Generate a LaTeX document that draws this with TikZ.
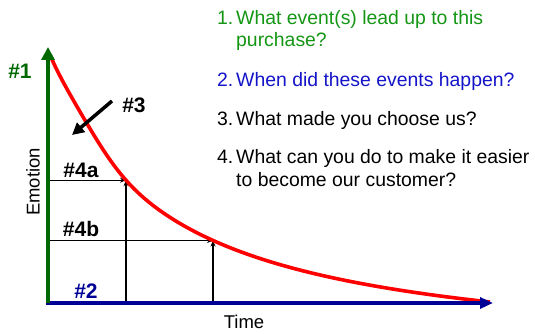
\documentclass[tikz,border=0pt]{standalone}
\usepackage{fontspec}
\setmainfont{Liberation Sans}
\usetikzlibrary{arrows.meta}
\definecolor{axgreen}{RGB}{0,104,0}
\definecolor{txtgreen}{RGB}{20,150,20}
\definecolor{axblue}{RGB}{0,0,150}
\definecolor{txtblue}{RGB}{20,20,200}
\begin{document}
\begin{tikzpicture}[x=1pt,y=-1pt,
  lbl/.style={font=\fontsize{21}{24}\selectfont\bfseries, inner sep=0pt},
  axlbl/.style={font=\fontsize{18.5}{22}\selectfont, inner sep=0pt},
  item/.style={font=\fontsize{19.4}{22}\selectfont, inner sep=0pt, anchor=base west},
  thin arrow/.style={draw=black, line width=1.3pt, -{Stealth[length=6pt,width=5pt]}},
]
\useasboundingbox (0,0) rectangle (535,334);
% axes
\coordinate (O) at (48,303);
\coordinate (Ytop) at (48,47);
\coordinate (Xend) at (493,303);
\coordinate (Xstart) at (46,303);
% points on the curve
\coordinate (c1) at (126,180.2);
\coordinate (c2) at (213,240.5);
\coordinate (a1) at (48,180.2);
\coordinate (b1) at (126,303);
\coordinate (a2) at (48,240.5);
\coordinate (b2) at (213,303);
\coordinate (t3s) at (112,101);
\coordinate (t3e) at (72,135);
% black thin arrows
\draw[thin arrow] (b1) -- (c1);
\draw[thin arrow] (b2) -- (c2);
\draw[thin arrow] (a1) -- (c1);
\draw[thin arrow] (a2) -- (c2);
% red curve
\draw[red, line width=3.6pt] plot[domain=50:490, samples=120, smooth]
  (\x, {303 - 327.83/((\x+56.8)/100) + 58.96 - 0.55*(\x-50)*exp(-((\x-50)/45)^2)});
% axes drawn on top
\draw[axblue, line width=4pt, -{Triangle[width=11pt,length=13pt]}] (Xstart) -- (Xend);
\draw[axgreen, line width=4pt, -{Triangle[width=13pt,length=13pt]}] (O) -- (Ytop);
% #3 arrow
\draw[black, line width=3.5pt, -{Triangle[width=12pt,length=12pt]}] (t3s) -- (t3e);
% labels
\node[lbl, text=axgreen] (l1) at (20,71) {\#1};
\node[lbl, text=axblue] (l2) at (86,291) {\#2};
\node[lbl] (l3) at (134,105) {\#3};
\node[lbl, anchor=base] (l4a) at (81,177) {\#4a};
\node[lbl, anchor=base] (l4b) at (81,236.5) {\#4b};
\node[axlbl, rotate=90] (emo) at (33,182) {Emotion};
\node[axlbl, anchor=base] (time) at (244,328.5) {Time};
% question list
\node[item, text=txtgreen] (n1) at (217,25) {1.};
\node[item, text=txtgreen] (q1a) at (236,25) {What event(s) lead up to this};
\node[item, text=txtgreen] (q1b) at (236,47) {purchase?};
\node[item, text=txtblue] (n2) at (217,87) {2.};
\node[item, text=txtblue] (q2) at (236,87) {When did these events happen?};
\node[item] (n3) at (217,125) {3.};
\node[item] (q3) at (236,125) {What made you choose us?};
\node[item] (n4) at (217,163.5) {4.};
\node[item] (q4a) at (236,163.5) {What can you do to make it easier};
\node[item] (q4b) at (236,186.5) {to become our customer?};
\end{tikzpicture}
\end{document}
